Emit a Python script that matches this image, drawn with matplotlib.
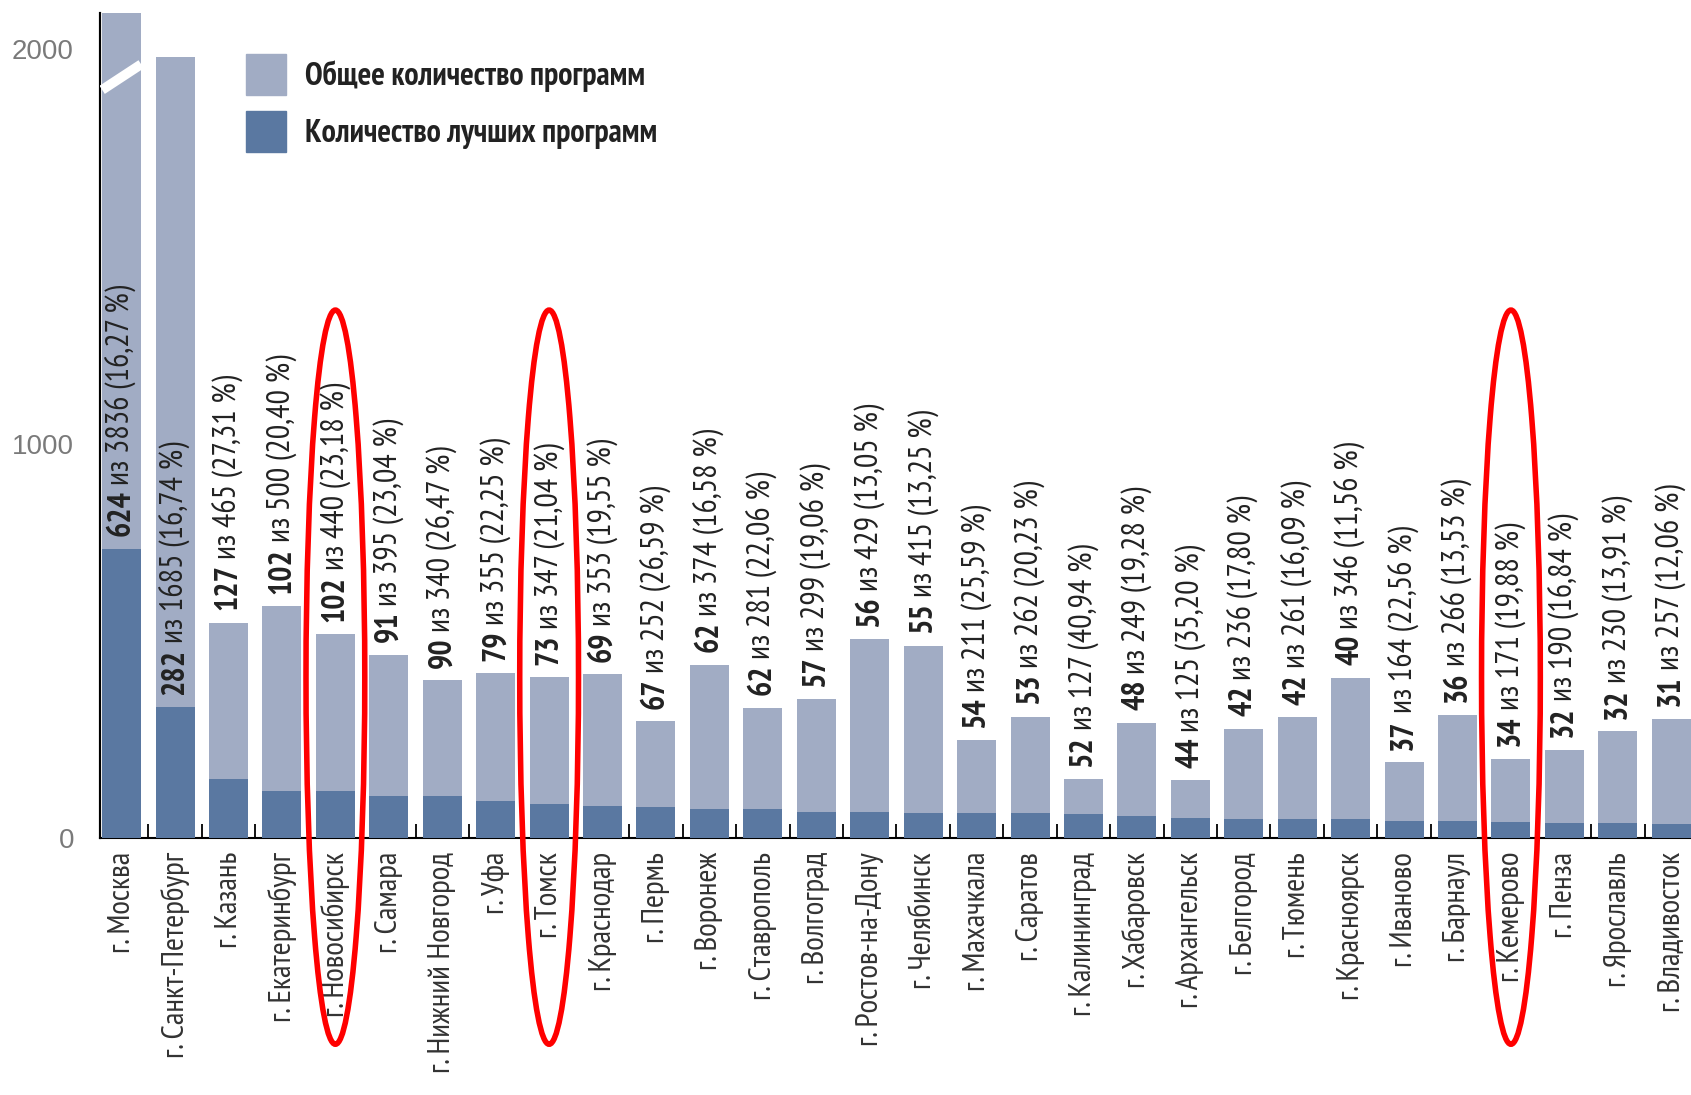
import numpy as np
import matplotlib
matplotlib.use("Agg")
import matplotlib.pyplot as plt
from matplotlib.patches import Ellipse, Patch
from matplotlib.transforms import blended_transform_factory

cities = ["г. Москва", "г. Санкт-Петербург", "г. Казань", "г. Екатеринбург",
          "г. Новосибирск", "г. Самара", "г. Нижний Новгород", "г. Уфа",
          "г. Томск", "г. Краснодар", "г. Пермь", "г. Воронеж", "г. Ставрополь",
          "г. Волгоград", "г. Ростов-на-Дону", "г. Челябинск", "г. Махачкала",
          "г. Саратов", "г. Калининград", "г. Хабаровск", "г. Архангельск",
          "г. Белгород", "г. Тюмень", "г. Красноярск", "г. Иваново",
          "г. Барнаул", "г. Кемерово", "г. Пенза", "г. Ярославль",
          "г. Владивосток"]
best = [624, 282, 127, 102, 102, 91, 90, 79, 73, 69, 67, 62, 62, 57, 56, 55,
        54, 53, 52, 48, 44, 42, 42, 40, 37, 36, 34, 32, 32, 31]
total = [3836, 1685, 465, 500, 440, 395, 340, 355, 347, 353, 252, 374, 281,
         299, 429, 415, 211, 262, 127, 249, 125, 236, 261, 346, 164, 266,
         171, 190, 230, 257]
highlight = ["г. Новосибирск", "г. Томск", "г. Кемерово"]
legend_labels = ["Общее количество программ", "Количество лучших программ"]

LIGHT = "#a1acc4"
DARK = "#5a78a1"
NARROW = ["PT Sans Narrow", "IBM Plex Sans Condensed", "DejaVu Sans"]

plt.rcParams["font.family"] = NARROW

fig = plt.figure(figsize=(16.91, 10.95), dpi=100)
ax = fig.add_axes([0.0593, 0.2347, 0.9407, 0.7533])

x = np.arange(len(cities))
ax.bar(x, total, width=0.73, color=LIGHT, zorder=2)
ax.bar(x, best, width=0.73, color=DARK, zorder=3)
ax.set_xlim(-0.4, len(cities) - 1 + 0.37)
ax.set_ylim(0, 1780)

blend = blended_transform_factory(ax.transData, ax.transAxes)
# break mark on the Moscow bar (it runs off the top)
ax.plot([-0.365, 0.365], [0.907, 0.938], transform=blend, color="white",
        lw=7, solid_capstyle="butt", zorder=4)

# labels: bold count first, the rest stacked after it
bases = [b if t > 1200 else t for b, t in zip(best, total)]
bold = []
for i in x:
    bold.append(ax.annotate(str(best[i]), (i, bases[i]), xytext=(0, 9),
                            textcoords="offset points", rotation=90,
                            ha="center", va="bottom", fontsize=23,
                            fontweight="bold", color="#222222", zorder=5))
fig.canvas.draw()
r = fig.canvas.get_renderer()
for i in x:
    h = bold[i].get_window_extent(r).height * 72 / fig.dpi
    pct = f"{best[i] / total[i] * 100:.2f}".replace(".", ",")
    ax.annotate(f"из {total[i]} ({pct} %)", (i, bases[i]),
                xytext=(0, 9 + h + 4), textcoords="offset points",
                rotation=90, ha="center", va="bottom", fontsize=23,
                color="#222222", zorder=5)

for name in highlight:
    i = cities.index(name)
    ax.add_patch(Ellipse((i, 0.195), width=1.1, height=0.89, transform=blend,
                         fill=False, ec="red", lw=4, clip_on=False,
                         zorder=10))

# the printed y axis is not to the bars' scale; ratio
K = 0.43 / 0.366
ax.tick_params(axis="y", left=False, labelleft=False)
sec = ax.secondary_yaxis("left", functions=(lambda v: v * K, lambda v: v / K))
sec.set_yticks([0, 1000, 2000], labels=["0", "1000", "2000"],
               fontfamily=["Liberation Sans", "DejaVu Sans"], fontsize=20,
               color="#7a7a7a")
sec.tick_params(length=0, pad=19)
sec.spines["left"].set_linewidth(1.5)

ax.set_xticks(x, cities, rotation=90, fontsize=22.5, color="#333333")
ax.tick_params(axis="x", which="major", length=0, pad=10)
ax.set_xticks(x[:-1] + 0.5, minor=True)
ax.tick_params(axis="x", which="minor", direction="in", length=10, width=1.3,
               color="black")
for s in ["top", "right"]:
    ax.spines[s].set_visible(False)
ax.spines["left"].set_linewidth(1.5)
ax.spines["bottom"].set_linewidth(1.5)

handles = [Patch(color=LIGHT), Patch(color=DARK)]
ax.legend(handles, legend_labels, loc="upper left",
          bbox_to_anchor=(0.1455, 0.9507), bbox_transform=fig.transFigure,
          frameon=False, borderpad=0, borderaxespad=0, handlelength=1.25,
          handleheight=1.6, handletextpad=0.6, labelspacing=0.5,
          prop={"weight": "bold", "size": 23}, labelcolor="#222222")

fig.savefig("out.png", dpi=100)
